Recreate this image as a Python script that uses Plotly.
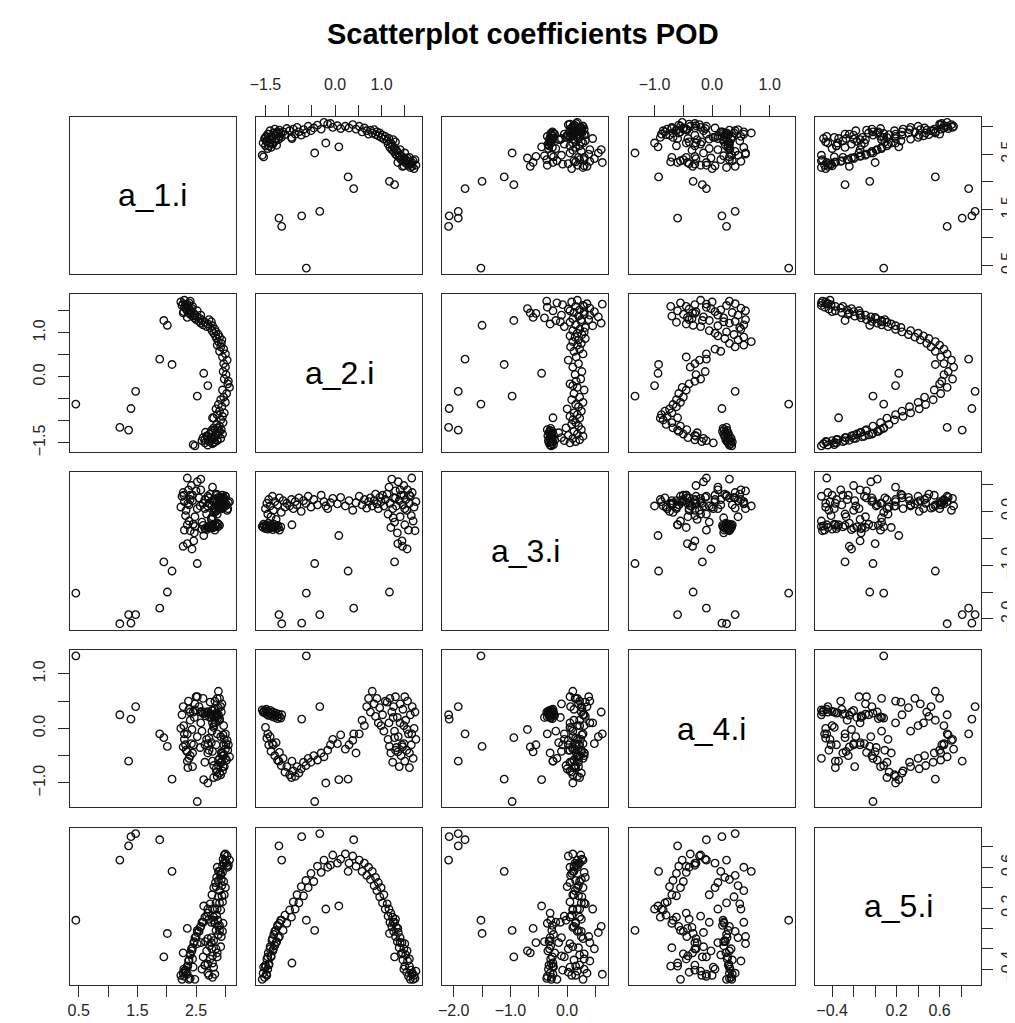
import plotly.graph_objects as go

# ---------------- data ----------------
# group 1: a_2 near -1.5, a_4 near +0.3
a1_g1 = [2.70, 2.78, 2.65, 2.82, 2.74, 2.60, 2.86, 2.70, 2.77, 2.62, 2.80, 2.68, 2.88, 2.73, 2.84, 2.66, 2.90, 2.76, 2.82, 2.48, 2.45, 2.87]
a2_g1 = [-1.55, -1.52, -1.50, -1.48, -1.47, -1.45, -1.44, -1.42, -1.40, -1.38, -1.36, -1.34, -1.32, -1.30, -1.28, -1.26, -1.24, -1.22, -1.20, -1.57, -1.54, -1.17]
a3_g1 = [-0.30, -0.27, -0.32, -0.25, -0.29, -0.33, -0.22, -0.28, -0.31, -0.26, -0.30, -0.34, -0.24, -0.29, -0.27, -0.32, -0.26, -0.30, -0.35, -0.28, -0.24, -0.29]
a4_g1 = [0.30, 0.33, 0.28, 0.35, 0.26, 0.31, 0.24, 0.29, 0.33, 0.27, 0.22, 0.30, 0.25, 0.20, 0.28, 0.23, 0.18, 0.26, 0.21, 0.34, 0.30, 0.19]
a5_g1 = [-0.44, -0.48, -0.36, -0.45, -0.30, -0.40, -0.24, -0.35, -0.20, -0.28, -0.12, -0.22, -0.06, -0.17, -0.02, -0.13, 0.03, -0.09, 0.05, -0.50, -0.38, 0.08]

# group 2: a_2 near -1.3, a_4 negative
a1_g2 = [2.80, 2.72, 2.86, 2.65, 2.92, 2.78, 2.70, 2.84, 2.95, 2.76, 2.88, 2.93, 2.80, 2.90, 2.85, 2.96]
a2_g2 = [-1.50, -1.47, -1.45, -1.43, -1.40, -1.38, -1.35, -1.33, -1.30, -1.27, -1.24, -1.20, -1.16, -1.12, -1.08, -1.04]
a3_g2 = [0.05, 0.15, -0.05, 0.22, 0.10, -0.10, 0.28, 0.02, 0.18, -0.15, 0.12, 0.25, -0.02, 0.20, 0.08, 0.15]
a4_g2 = [0.02, -0.18, -0.10, -0.30, -0.15, -0.42, -0.28, -0.30, -0.50, -0.26, -0.58, -0.44, -0.68, -0.55, -0.80, -0.70]
a5_g2 = [-0.38, -0.46, -0.28, -0.36, -0.18, -0.27, -0.10, -0.20, -0.03, -0.14, 0.02, -0.08, 0.08, -0.02, 0.13, 0.05]

# group 3: a_2 between -1 and 1.1
a1_g3 = [2.92, 2.80, 2.95, 2.86, 2.98, 2.90, 2.84, 2.94, 2.88, 3.00,
         2.92, 2.97, 3.02, 2.95, 3.07, 3.04, 2.98, 3.01, 2.96, 3.00,
         2.97, 3.03, 2.95, 3.00, 2.90, 2.97, 2.92, 2.86, 2.93, 2.88,
         2.94, 2.85, 2.90, 2.83, 2.88, 2.80, 2.84, 2.77, 2.82, 3.05]
a2_g3 = [-0.98, -0.94, -0.90, -0.86, -0.82, -0.78, -0.73, -0.68, -0.63, -0.58,
         -0.52, -0.46, -0.38, -0.30, -0.24, -0.16, -0.05, 0.05, 0.12, 0.22,
         0.30, 0.38, 0.45, 0.52, 0.58, 0.63, 0.68, 0.72, 0.76, 0.80,
         0.84, 0.87, 0.90, 0.93, 0.96, 0.99, 1.02, 1.05, 1.08, -0.10]
a3_g3 = [0.10, 0.22, 0.05, 0.18, 0.12, 0.25, 0.00, 0.20, 0.15, 0.28,
         0.08, 0.22, 0.12, 0.30, 0.18, 0.05, 0.24, 0.14, 0.26, 0.10,
         0.20, 0.02, 0.16, 0.28, 0.12, 0.22, 0.06, 0.18, 0.25, 0.10,
         0.20, 0.32, 0.14, 0.05, 0.26, 0.18, 0.30, 0.10, 0.22, 0.16]
a4_g3 = [-0.85, -0.90, -0.78, -0.88, -0.70, -0.82, -0.74, -0.62, -0.68, -0.55,
         -0.62, -0.50, -0.58, -0.45, -0.52, -0.40, -0.20, -0.28, -0.12, -0.38,
         -0.30, -0.22, -0.45, -0.10, 0.15, 0.05, 0.40, 0.55, 0.30, 0.68,
         0.45, 0.22, 0.55, 0.10, 0.38, 0.05, 0.25, -0.05, 0.50, -0.30]
a5_g3 = [0.18, 0.11, 0.26, 0.19, 0.33, 0.25, 0.41, 0.32, 0.47, 0.40,
         0.54, 0.46, 0.61, 0.55, 0.67, 0.60, 0.72, 0.64, 0.68, 0.73,
         0.64, 0.71, 0.61, 0.67, 0.56, 0.64, 0.52, 0.60, 0.48, 0.56,
         0.42, 0.50, 0.37, 0.45, 0.31, 0.40, 0.25, 0.33, 0.19, 0.62]

# group 4: a_2 near +1.5
a1_g4 = [2.74, 2.68, 2.78, 2.62, 2.70, 2.58, 2.65, 2.55, 2.60, 2.50,
         2.57, 2.47, 2.52, 2.44, 2.48, 2.40, 2.46, 2.38, 2.42, 2.35,
         2.40, 2.33, 2.37, 2.30, 2.36, 2.26, 2.32, 2.28, 2.38, 2.24,
         2.40, 2.30, 2.35, 2.28, 2.43, 2.72, 2.58, 2.52, 2.44, 2.76,
         2.35, 2.29]
a2_g4 = [1.12, 1.14, 1.16, 1.18, 1.20, 1.22, 1.24, 1.26, 1.28, 1.30,
         1.32, 1.34, 1.36, 1.38, 1.40, 1.42, 1.44, 1.46, 1.48, 1.50,
         1.52, 1.54, 1.56, 1.58, 1.60, 1.62, 1.64, 1.66, 1.68, 1.70,
         1.72, 1.74, 1.35, 1.45, 1.55, 1.30, 1.40, 1.50, 1.60, 1.25,
         1.65, 1.48]
a3_g4 = [0.32, -0.05, 0.45, 0.15, -0.30, 0.60, 0.05, 0.25, -0.20, 0.38,
         0.10, -0.40, 0.55, 0.20, -0.10, 0.30, -0.55, 0.12, 0.48, -0.25,
         0.22, 0.02, 0.40, -0.35, 0.15, 0.28, -0.08, 0.35, -0.18, 0.08,
         -0.36, 0.18, -0.60, -0.65, -0.70, 0.25, 0.40, 0.05, 0.30, -0.12,
         0.62, 0.30]
a4_g4 = [0.48, -0.20, 0.10, 0.55, -0.45, 0.30, -0.62, 0.40, -0.05, 0.58,
         -0.35, 0.20, -0.15, -0.70, 0.45, -0.50, -0.30, 0.35, -0.28, -0.60,
         0.15, -0.40, 0.50, -0.10, -0.72, 0.25, -0.30, 0.40, -0.55, 0.00,
         0.30, -0.20, -0.43, -0.34, -0.02, -0.40, 0.10, 0.58, -0.45, 0.20,
         -0.10, 0.05]
a5_g4 = [0.24, 0.12, 0.19, 0.06, 0.15, 0.02, 0.11, -0.03, 0.06, -0.08,
         0.01, -0.13, -0.04, -0.19, -0.09, -0.25, -0.14, -0.31, -0.20, -0.37,
         -0.26, -0.43, -0.32, -0.47, -0.37, -0.50, -0.41, -0.44, -0.50, -0.46,
         -0.49, -0.42, 0.00, -0.24, -0.22, 0.09, -0.14, -0.15, -0.30, 0.06,
         -0.45, -0.40]

# group 5: transient points
a1_g5 = [0.45, 1.20, 1.35, 1.39, 1.47, 1.88, 1.95, 2.01, 2.09, 2.52, 2.63, 2.78, 2.70]
a2_g5 = [-0.62, -1.15, -1.21, -0.72, -0.33, 0.40, 1.28, 1.17, 0.28, -0.44, 0.08, -0.93, -0.20]
a3_g5 = [-1.52, -2.09, -1.92, -2.08, -1.92, -1.80, -0.94, -1.50, -1.11, -0.97, -0.45, -0.25, 0.10]
a4_g5 = [1.33, 0.25, -0.60, 0.17, 0.40, -0.10, -0.17, -0.33, -0.93, -1.34, -0.94, -0.60, -1.00]
a5_g5 = [0.08, 0.67, 0.81, 0.90, 0.93, 0.87, -0.28, -0.05, 0.56, -0.02, 0.22, -0.34, 0.19]

a_1 = a1_g1 + a1_g2 + a1_g3 + a1_g4 + a1_g5
a_2 = a2_g1 + a2_g2 + a2_g3 + a2_g4 + a2_g5
a_3 = a3_g1 + a3_g2 + a3_g3 + a3_g4 + a3_g5
a_4 = a4_g1 + a4_g2 + a4_g3 + a4_g4 + a4_g5
a_5 = a5_g1 + a5_g2 + a5_g3 + a5_g4 + a5_g5
assert len(a_1) == len(a_2) == len(a_3) == len(a_4) == len(a_5)

var_names = ["a_1.i", "a_2.i", "a_3.i", "a_4.i", "a_5.i"]
series = [a_1, a_2, a_3, a_4, a_5]

MINUS = "\u2212"
tick_vals = [
    [0.5, 1.0, 1.5, 2.0, 2.5, 3.0],
    [-1.5, -1.0, -0.5, 0.0, 0.5, 1.0, 1.5],
    [-2.0, -1.5, -1.0, -0.5, 0.0, 0.5],
    [-1.0, -0.5, 0.0, 0.5, 1.0],
    [-0.4, -0.2, 0.0, 0.2, 0.4, 0.6, 0.8],
]
tick_text = [
    ["0.5", "", "1.5", "", "2.5", ""],
    [MINUS + "1.5", "", "", "0.0", "", "1.0", ""],
    [MINUS + "2.0", "", MINUS + "1.0", "", "0.0", ""],
    [MINUS + "1.0", "", "0.0", "", "1.0"],
    [MINUS + "0.4", "", "", "0.2", "", "0.6", ""],
]

# ---------------- layout geometry ----------------
W, H = 1015, 1023
N = 5
PW, PH = 167.0, 158.0
COL_LEFT = [56.0 + 187.5 * j for j in range(N)]
ROW_TOP = [109.0 + 178.5 * i for i in range(N)]

FONT = "Liberation Sans, Arial, Helvetica, sans-serif"
LINE_COL = "#2a2a2a"
TXT_COL = "#262626"
STANDOFF = {"top": 8, "bottom": 0, "left": 6, "right": 1}


def rng(v):
    lo, hi = min(v), max(v)
    pad = 0.04 * (hi - lo)
    return [lo - pad, hi + pad]


ranges = [rng(v) for v in series]

fig = go.Figure()
layout = {}
annotations = []

for i in range(N):
    for j in range(N):
        k = i * N + j + 1
        xa = "xaxis" if k == 1 else f"xaxis{k}"
        ya = "yaxis" if k == 1 else f"yaxis{k}"
        xr = "x" if k == 1 else f"x{k}"
        yr = "y" if k == 1 else f"y{k}"
        x0 = COL_LEFT[j] / W
        x1 = (COL_LEFT[j] + PW) / W
        y1 = 1 - ROW_TOP[i] / H
        y0 = 1 - (ROW_TOP[i] + PH) / H

        xside = None
        if i == 0 and j % 2 == 1:
            xside = "top"
        if i == N - 1 and j % 2 == 0:
            xside = "bottom"
        yside = None
        if j == 0 and i % 2 == 1:
            yside = "left"
        if j == N - 1 and i % 2 == 0:
            yside = "right"

        xdict = dict(domain=[x0, x1], range=ranges[j], anchor=yr,
                     showline=True, mirror=True, linecolor=LINE_COL, linewidth=1,
                     showgrid=False, zeroline=False, fixedrange=True)
        if xside:
            xdict.update(side=xside, ticks="outside", ticklen=11, tickwidth=1,
                         tickcolor=LINE_COL, tickmode="array",
                         tickvals=tick_vals[j], ticktext=tick_text[j],
                         showticklabels=True, ticklabelstandoff=STANDOFF[xside],
                         tickfont=dict(family=FONT, size=16, color=TXT_COL))
        else:
            xdict.update(showticklabels=False, ticks="")
        ydict = dict(domain=[y0, y1], range=ranges[i], anchor=xr,
                     showline=True, mirror=True, linecolor=LINE_COL, linewidth=1,
                     showgrid=False, zeroline=False, fixedrange=True)
        if yside:
            ydict.update(side=yside, ticks="outside", ticklen=11, tickwidth=1,
                         tickcolor=LINE_COL, tickmode="array",
                         tickvals=tick_vals[i], ticktext=tick_text[i],
                         tickangle=-90, showticklabels=True,
                         ticklabelstandoff=STANDOFF[yside],
                         tickfont=dict(family=FONT, size=16, color=TXT_COL))
        else:
            ydict.update(showticklabels=False, ticks="")
        layout[xa] = xdict
        layout[ya] = ydict

        if i == j:
            # empty trace so that the diagonal panel (box) is drawn
            fig.add_trace(go.Scatter(x=[], y=[], mode="markers", xaxis=xr, yaxis=yr,
                                     showlegend=False, hoverinfo="skip"))
            annotations.append(dict(
                text=var_names[i], x=(x0 + x1) / 2, y=(y0 + y1) / 2,
                xref="paper", yref="paper",
                showarrow=False, xanchor="center", yanchor="middle",
                font=dict(family=FONT, size=32, color="#000000")))
        else:
            fig.add_trace(go.Scatter(
                x=series[j], y=series[i], mode="markers",
                xaxis=xr, yaxis=yr, showlegend=False, hoverinfo="skip",
                marker=dict(symbol="circle-open", size=7.5, color="#0d0d0d",
                            line=dict(width=1.35, color="#0d0d0d")),
                cliponaxis=True))

annotations.append(dict(
    text="<b>Scatterplot coefficients POD</b>", x=512 / W, y=1 - 26 / H,
    xref="paper", yref="paper", showarrow=False,
    xanchor="center", yanchor="middle",
    font=dict(family=FONT, size=29, color="#000000")))

fig.update_layout(width=W, height=H, margin=dict(l=0, r=0, t=0, b=0),
                  paper_bgcolor="white", plot_bgcolor="white",
                  annotations=annotations, **layout)

fig.write_html("out.html", include_plotlyjs=True, full_html=True,
               config={"displayModeBar": False})
